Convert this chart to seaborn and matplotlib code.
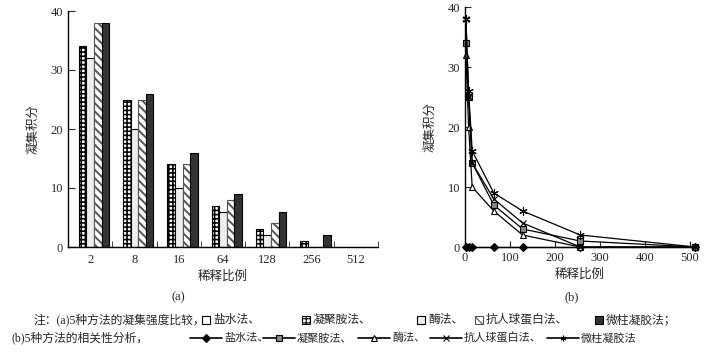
import numpy as np
import pandas as pd
import matplotlib
matplotlib.use('Agg')
import matplotlib.pyplot as plt
import seaborn as sns
from matplotlib.patches import Rectangle
from matplotlib.lines import Line2D

# data
dilution = ['2', '8', '16', '64', '128', '256', '512']
dilution_num = [2, 8, 16, 64, 128, 256, 512]
methods = ['盐水法', '凝聚胺法', '酶法', '抗人球蛋白法', '微柱凝胶法']
saline = [0, 0, 0, 0, 0, 0, 0]
polybrene = [34, 25, 14, 7, 3, 1, 0]
enzyme = [32, 20, 10, 6, 2, 0, 0]
antiglobulin = [38, 25, 14, 8, 4, 0, 0]
microcolumn = [38, 26, 16, 9, 6, 2, 0]
series = [saline, polybrene, enzyme, antiglobulin, microcolumn]

sns.set_style('ticks')
plt.rcParams['font.family'] = ['Liberation Serif', 'Noto Sans CJK SC']
plt.rcParams['hatch.linewidth'] = 1.3

W, H = 707, 355
def fx(x):
    return x / W
def fy(y):
    return 1 - y / H

fig = plt.figure(figsize=(7.07, 3.55), dpi=100)
ax1 = fig.add_axes([fx(68), fy(247), fx(310), (247 - 11) / H])
ax2 = fig.add_axes([fx(465), fy(247), fx(230), (247 - 7) / H])

# (a) grouped bars
rows = []
for m, vals in zip(methods, series):
    for d, v in zip(dilution, vals):
        rows.append({'稀释比例': d, '凝集积分': v, 'method': m})
df = pd.DataFrame(rows)

face = ['white', 'white', '#eeeeee', 'white', '#333333']
hatches = [None, '++++', None, '\\\\\\\\', None]
edges = ['black', 'black', 'black', '#555555', 'black']
hatch_lw = [1.0, 1.15, 1.0, 1.4, 1.0]
sns.barplot(data=df, x='稀释比例', y='凝集积分', hue='method', hue_order=methods,
            order=dilution, palette=dict(zip(methods, face)), saturation=1,
            width=0.86, edgecolor='black', linewidth=0.8, legend=False, ax=ax1)
for cont, h, ec, hl in zip(ax1.containers, hatches, edges, hatch_lw):
    for bar in cont:
        bar.set_edgecolor(ec)
        if h:
            bar.set_hatch(h)
            if hasattr(bar, 'set_hatch_linewidth'):
                bar.set_hatch_linewidth(hl)

ax1.set_xlim(-0.5, 6.5)
ax1.set_ylim(0, 40)
ax1.set_yticks([0, 10, 20, 30, 40])
ax1.set_xticks(np.arange(-0.5, 7, 1), minor=True)
ax1.tick_params(axis='x', which='major', length=0, pad=5)
ax1.tick_params(axis='x', which='minor', direction='in', length=4)
ax1.tick_params(axis='y', direction='in', length=5)
ax1.set_xlabel('稀释比例', fontsize=9, labelpad=3)
ax1.set_ylabel('凝集积分', fontsize=9, labelpad=8)

# (b) lines
markers = ['D', 's', '^', 'x', (6, 2, 0)]
mfc = ['black', '#888888', 'white', 'black', 'black']
msz = [4, 5, 5, 5, 6]
for vals, mk, fc, ms in zip(series, markers, mfc, msz):
    sns.lineplot(x=dilution_num, y=vals, color='black', linewidth=0.9,
                 marker=mk, markersize=ms, markerfacecolor=fc,
                 markeredgecolor='black', markeredgewidth=0.8, ax=ax2)
ax2.set_xlim(0, 511)
ax2.set_ylim(0, 40)
ax2.set_xticks([0, 100, 200, 300, 400, 500])
ax2.set_yticks([0, 10, 20, 30, 40])
ax2.tick_params(direction='in', length=4)
ax2.set_xlabel('稀释比例', fontsize=9, labelpad=3)
ax2.set_ylabel('凝集积分', fontsize=9, labelpad=8)
for line in ax2.lines:
    line.set_clip_on(False)

for ax in (ax1, ax2):
    sns.despine(ax=ax)
    for lab in ax.get_xticklabels() + ax.get_yticklabels():
        lab.set_fontsize(9)
    for sp in ax.spines.values():
        sp.set_linewidth(1.0)
        sp.set_color('black')

fig.text(fx(178), fy(297), '(a)', fontsize=9, ha='center', va='center')
fig.text(fx(572), fy(297), '(b)', fontsize=9, ha='center', va='center')

# caption, line 1: bar legend
y1, y2 = 320, 338
fig.text(fx(33), fy(y1), '注：(a)5种方法的凝集强度比较，', fontsize=8.5, va='center')
icon_x = [202, 302, 417, 475, 595]
for x0, fc, h, ec, m in zip(icon_x, face, hatches, edges, methods):
    with plt.rc_context({'hatch.linewidth': 0.8}):
        fig.patches.append(Rectangle((fx(x0), fy(y1 + 4)), 8 / W, 8 / H,
                                     transform=fig.transFigure, facecolor=fc,
                                     edgecolor=ec, hatch=h, linewidth=0.8))
    label = m + ('；' if m == methods[-1] else '、')
    fig.text(fx(x0 + 11), fy(y1), label, fontsize=8.5, va='center')

# caption, line 2: line legend
fig.text(fx(12), fy(y2), '(b)5种方法的相关性分析，', fontsize=8.5, va='center')
line_x = [190, 263, 358, 430, 547]
for x0, mk, fc, m in zip(line_x, markers, mfc, methods):
    fig.lines.append(Line2D([fx(x0), fx(x0 + 32)], [fy(y2), fy(y2)],
                            transform=fig.transFigure, color='black', linewidth=1.2))
    fig.lines.append(Line2D([fx(x0 + 16)], [fy(y2)], transform=fig.transFigure, marker=mk,
                            markersize=4, markerfacecolor=fc, markeredgecolor='black',
                            markeredgewidth=0.8, linestyle='none'))
    label = m + ('' if m == methods[-1] else '、')
    fig.text(fx(x0 + 34), fy(y2), label, fontsize=8, va='center')

fig.savefig('out.png', dpi=100)
